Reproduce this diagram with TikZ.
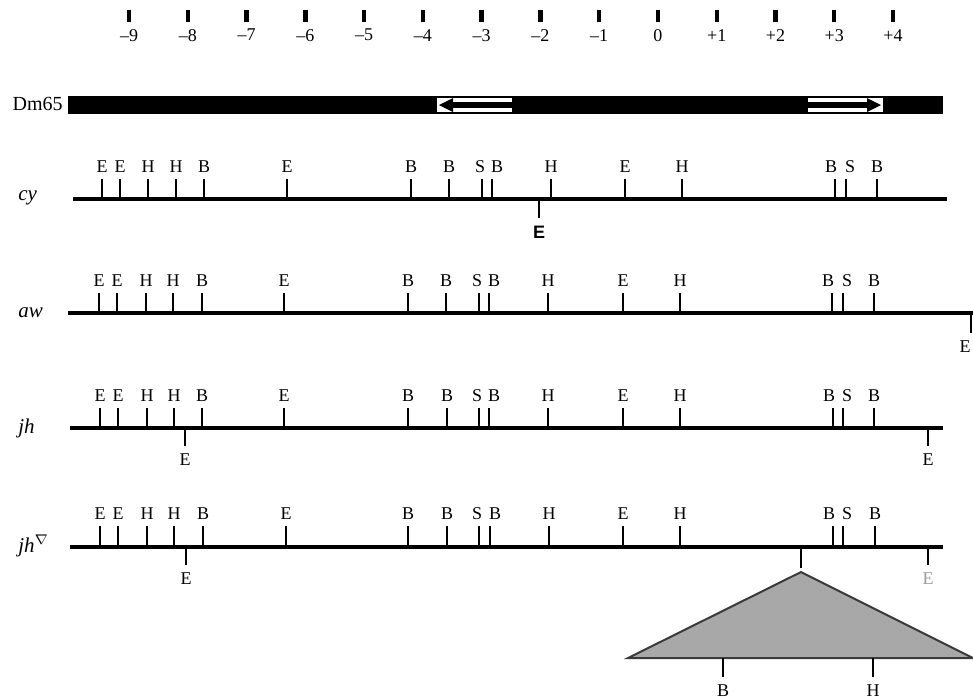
\documentclass[tikz,border=0pt]{standalone}
\usepackage{fontspec}
\setmainfont{Liberation Serif}
\newfontfamily\sitesans{Liberation Sans}
\usetikzlibrary{positioning}
\definecolor{insfill}{HTML}{A8A8A8}
\definecolor{insedge}{HTML}{3A3A3A}
\definecolor{faint}{HTML}{9C9C9C}

\begin{document}
\begin{tikzpicture}[x=0.5pt, y=-0.5pt,
    every node/.style={font=\fontsize{9}{10}\selectfont, inner sep=1pt},
    mapline/.style={line width=2pt},
    cut/.style={line width=1.1pt},
    kbtick/.style={line width=2.2pt},
    site/.style={above=1.5pt},
    sitebelow/.style={below=2.5pt},
    rowlbl/.style={anchor=west, font=\fontsize{10.5}{12}\selectfont\itshape}
]
\useasboundingbox (0,0) rectangle (973,698);

% kb scale
\foreach \lbl [count=\i] in {–9,–8,–7,–6,–5,–4,–3,–2,–1,0,+1,+2,+3,+4}
  \draw[kbtick] ({129+58.77*(\i-1)},10) -- ++(0,12) node[below=1.5pt] (kb\i) {\lbl};

% Dm65 clone
\node[anchor=east, font=\fontsize{10}{12}\selectfont] (dm) at (65,104) {Dm65};
\fill (68,96) rectangle (943,114);
\fill[white] (437,97.5) rectangle (512,112);
\fill (512,102.3) rectangle (453,107.7);
\fill (453,98) -- (439,105) -- (453,112) -- cycle;
\fill[white] (808,97.5) rectangle (883,112);
\fill (808,102.3) rectangle (867,107.7);
\fill (867,98) -- (881,105) -- (867,112) -- cycle;

% cy
\node[rowlbl] (cy) at (16,198) {cy};
\draw[mapline] (73,199) -- (947,199);
\foreach \x/\s/\dx [count=\i] in {102/E/0,120/E/0,148/H/0,176/H/0,204/B/0,287/E/0,
    411/B/0,449/B/0,482/S/-1,492/B/2.5,551/H/0,625/E/0,682/H/0,835/B/-2,846/S/2,877/B/0}
  \draw[cut] (\x,199) -- ++(0,-20) node[site, xshift=\dx pt] (cy\i) {\s};
\draw[cut] (539,199) -- ++(0,19) node[sitebelow, font=\fontsize{9}{10}\sitesans\bfseries] (cyE) {E};

% aw
\node[rowlbl] (aw) at (16,313) {aw};
\draw[mapline] (68,313) -- (973,313);
\foreach \x/\s/\dx [count=\i] in {99/E/0,117/E/0,146/H/0,173/H/0,202/B/0,284/E/0,
    408/B/0,446/B/0,479/S/-1,489/B/2.5,548/H/0,623/E/0,680/H/0,832/B/-2,843/S/2,874/B/0}
  \draw[cut] (\x,313) -- ++(0,-20) node[site, xshift=\dx pt] (aw\i) {\s};
\draw[cut] (971,313) -- ++(0,20) node[sitebelow, xshift=-3pt] (awE) {E};

% jh
\node[rowlbl] (jh) at (16,428) {jh};
\draw[mapline] (70,428) -- (943,428);
\foreach \x/\s/\dx [count=\i] in {100/E/0,118/E/0,147/H/0,174/H/0,202/B/0,284/E/0,
    408/B/0,447/B/0,479/S/-1,489/B/2.5,548/H/0,623/E/0,680/H/0,833/B/-2,843/S/2,874/B/0}
  \draw[cut] (\x,428) -- ++(0,-20) node[site, xshift=\dx pt] (jh\i) {\s};
\draw[cut] (185,428) -- ++(0,18) node[sitebelow] (jhE1) {E};
\draw[cut] (928,428) -- ++(0,18) node[sitebelow] (jhE2) {E};

% jh with insertion
\node[rowlbl] (jhi) at (16,546) {jh$^{\nabla}$};
\draw[mapline] (70,547) -- (943,547);
\foreach \x/\s/\dx [count=\i] in {100/E/0,118/E/0,147/H/0,174/H/0,203/B/0,286/E/0,
    408/B/0,447/B/0,479/S/-1,490/B/2.5,549/H/0,623/E/0,680/H/0,833/B/-2,843/S/2,875/B/0}
  \draw[cut] (\x,547) -- ++(0,-21) node[site, xshift=\dx pt] (jhi\i) {\s};
\draw[cut] (186,547) -- ++(0,18) node[sitebelow] (jhiE1) {E};
\draw[cut] (928,547) -- ++(0,18) node[sitebelow, text=faint] (jhiE2) {E};

% insertion
\coordinate (ins) at (801,547);
\coordinate (apex) at (801,572);
\coordinate (insL) at (628,658);
\coordinate (insR) at (973,658);
\draw[cut] (ins) -- (801,568);
\filldraw[fill=insfill, draw=insedge, line width=1pt] (apex) -- (insR) -- (insL) -- cycle;
\draw[cut] (723,658) -- ++(0,19) node[sitebelow] (insB) {B};
\draw[cut] (873,658) -- ++(0,19) node[sitebelow] (insH) {H};
\end{tikzpicture}
\end{document}
